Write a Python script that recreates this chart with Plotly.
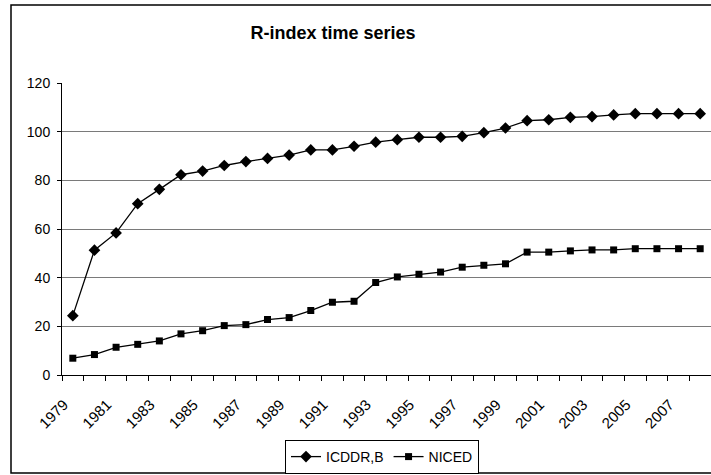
import plotly.graph_objects as go

years = list(range(1979, 2009))
icddrb = [24.4, 51.3, 58.4, 70.4, 76.3, 82.3, 83.8, 86.1, 87.7, 89.0,
          90.4, 92.5, 92.5, 94.0, 95.7, 96.7, 97.7, 97.7, 98.1, 99.6,
          101.5, 104.5, 104.9, 105.9, 106.2, 106.9, 107.4, 107.4, 107.4, 107.4]
niced = [6.9, 8.4, 11.4, 12.6, 14.0, 16.9, 18.2, 20.3, 20.7, 22.8,
         23.6, 26.5, 29.9, 30.3, 38.0, 40.3, 41.4, 42.3, 44.3, 45.1,
         45.7, 50.5, 50.5, 51.0, 51.4, 51.4, 51.9, 51.9, 51.9, 51.9]
tick_years = list(range(1979, 2009, 2))

FONT = "Arial, Liberation Sans, sans-serif"

fig = go.Figure()
fig.add_trace(go.Scatter(x=years, y=icddrb, name="ICDDR,B", mode="lines+markers",
                         line=dict(color="black", width=1.3),
                         marker=dict(symbol="diamond", size=9, color="black")))
fig.add_trace(go.Scatter(x=years, y=niced, name="NICED", mode="lines+markers",
                         line=dict(color="black", width=1.3),
                         marker=dict(symbol="square", size=7, color="black")))

W, H = 711, 475
L, R, T, B = 62, 0, 83, 100
pw, ph = W - L - R, H - T - B

def px(x):
    return (x - L) / pw

def py(y):
    return (H - B - y) / ph

fig.update_layout(
    width=W, height=H,
    margin=dict(l=L, r=R, t=T, b=B, autoexpand=False),
    paper_bgcolor="white", plot_bgcolor="white",
    font=dict(family=FONT, size=14, color="black"),
    title=dict(text="<b>R-index time series</b>", x=px(366), xanchor="center",
               y=1 - 33 / H, yanchor="middle", font=dict(size=18, family=FONT)),
    showlegend=True,
    legend=dict(orientation="h", x=px(382), xanchor="center", y=py(440), yanchor="top",
                bordercolor="black", borderwidth=1, bgcolor="white",
                font=dict(size=14, family=FONT), itemwidth=30,
                tracegroupgap=0),
    shapes=[dict(type="rect", xref="paper", yref="paper",
                 x0=px(11), x1=px(722), y0=py(473), y1=py(5),
                 line=dict(color="black", width=1.5), layer="below")],
)

fig.update_xaxes(
    range=[1978.5, 2008.5],
    tickmode="array", tickvals=tick_years, ticktext=[str(y) for y in tick_years],
    tickangle=-45, ticks="", ticklabelstandoff=14, ticklabelshift=-9,
    minor=dict(ticks="outside", ticklen=5, tickcolor="black", tick0=1978.5, dtick=1,
               showgrid=False),
    showline=True, linecolor="black", linewidth=1,
    showgrid=False, zeroline=False, automargin=False,
    tickfont=dict(size=15, family=FONT),
)
fig.update_yaxes(
    range=[0, 120], dtick=20, tick0=0,
    ticks="outside", ticklen=4, tickcolor="black", ticklabelstandoff=4,
    showline=True, linecolor="black", linewidth=1,
    showgrid=True, gridcolor="#7a7a7a", gridwidth=1,
    zeroline=False, automargin=False,
    tickfont=dict(size=14, family=FONT),
)

fig.write_html("out.html",
               config={"displayModeBar": False},
               post_script="document.body.style.margin='0';document.body.style.padding='0';document.body.style.overflow='hidden';")
